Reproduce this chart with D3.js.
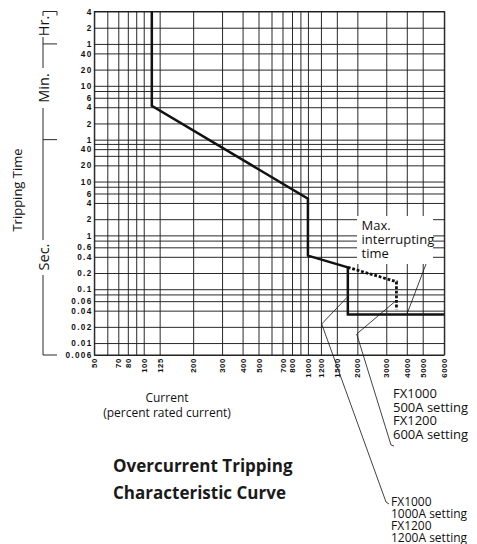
<!DOCTYPE html>
<html><head><meta charset="utf-8">
<script src="https://cdn.jsdelivr.net/npm/d3@7"></script>
<style>body{margin:0;background:#fff}svg{display:block}</style>
</head><body>
<script>
// ---- data ----
const xTickLabels = [50,70,80,100,125,200,300,400,500,700,800,1000,1200,1500,2000,3000,4000,5000,6000];
const xGridValues = [50,60,70,80,90,100,125,200,300,400,500,600,700,800,900,1000,1200,1500,2000,3000,4000,5000,6000];
const hourLabels = [4,2,1];
const minuteLabels = [40,20,10,6,4,2,1];
const secondLabels = [40,20,10,6,4,2,1,0.6,0.4,0.2,0.1,0.06,0.04,0.02,0.01,0.006];
const hourGrid = [4,2,1];
const minuteGrid = [40,20,10,8,6,4,2,1];
const secondGrid = [50,40,30,20,10,8,6,4,2,1,0.8,0.6,0.4,0.2,0.1,0.08,0.06,0.04,0.02,0.01,0.006];
// tripping curve: current (% rated) and time (seconds)
const curveCurrent = [112,112,1000,1000,1750,1750,6000];
const curveTime    = [14400,255,4.8,0.42,0.255,0.034,0.034];
// max interrupting time (dotted)
const maxCurrent = [1750,3460,3460];
const maxTime    = [0.255,0.138,0.042];

const W=477,H=544;
const svg=d3.select("body").append("svg").attr("width",W).attr("height",H);
const L=94.3,R=444.3,T=11.5,B=355;
const x=d3.scaleLog().domain([50,5000,6000]).range([L,422.7,R]);
const y=d3.scaleLog().domain([0.006,14400]).range([B,T]);
const font="'Open Sans', 'Noto Sans', sans-serif";
const tickFont="'Liberation Sans', Arial, sans-serif";

const gridSecs=[...hourGrid.map(h=>h*3600),...minuteGrid.map(m=>m*60),...secondGrid];
const labelSecs=[...hourLabels.map(h=>h*3600),...minuteLabels.map(m=>m*60),...secondLabels];
const labelText=[...hourLabels,...minuteLabels,...secondLabels].map(String);

// grid
const gx=svg.append("g").attr("transform",`translate(0,${B})`)
  .call(d3.axisBottom(x).tickValues(xGridValues).tickFormat("").tickSizeInner(-(B-T)).tickSizeOuter(0));
gx.select(".domain").remove();
gx.selectAll("line").attr("stroke","#1e1e1e").attr("stroke-width",0.95);
const gy=svg.append("g").attr("transform",`translate(${L},0)`)
  .call(d3.axisLeft(y).tickValues(gridSecs).tickFormat("").tickSizeInner(-(R-L)).tickSizeOuter(0));
gy.select(".domain").remove();
gy.selectAll("line").attr("stroke","#1e1e1e").attr("stroke-width",0.95);
svg.append("rect").attr("x",L).attr("y",T).attr("width",R-L).attr("height",B-T)
  .attr("fill","none").attr("stroke","#1e1e1e").attr("stroke-width",1);

// y tick labels
const ay=svg.append("g").attr("transform",`translate(${L-1.8},0)`)
  .call(d3.axisLeft(y).tickValues(labelSecs).tickFormat((d,i)=>labelText[i]).tickSize(0).tickPadding(0));
ay.select(".domain").remove();
ay.selectAll("text").attr("font-family",tickFont).attr("font-weight","bold").attr("font-size",8.2)
  .attr("letter-spacing",1.3).attr("fill","#111");

// x tick labels
const ax=svg.append("g").attr("transform",`translate(0,${B})`)
  .call(d3.axisBottom(x).tickValues(xTickLabels).tickFormat(d=>String(d)).tickSize(0));
ax.select(".domain").remove();
ax.selectAll("text").attr("font-family",tickFont).attr("font-weight","bold").attr("font-size",7.8)
  .attr("letter-spacing",0.6).attr("fill","#111")
  .attr("text-anchor","end").attr("transform","rotate(-90)").attr("x",-3).attr("y",0).attr("dy","0.33em");

// annotation box (covers grid)
svg.append("rect").attr("x",357).attr("y",216).attr("width",76).attr("height",48).attr("fill","#fff");

// curves
const line=d3.line().x(d=>x(d[0])).y(d=>y(d[1]));
svg.append("path").datum(maxCurrent.map((c,i)=>[c,maxTime[i]])).attr("d",line)
  .attr("fill","none").attr("stroke","#111").attr("stroke-width",2.8).attr("stroke-dasharray","2.8,1.8");
svg.append("path").datum(curveCurrent.map((c,i)=>[c,curveTime[i]])).attr("d",line)
  .attr("fill","none").attr("stroke","#111").attr("stroke-width",2.5).attr("stroke-linejoin","miter");

// box text
const bt=svg.append("text").attr("font-family",font).attr("font-size",13).attr("fill","#111");
[["Max.",230],["interrupting",244],["time",257.5]].forEach(([t,yy])=>bt.append("tspan").attr("x",361.5).attr("y",yy).text(t));

// leader lines
const leader=(pts)=>svg.append("path").attr("d",d3.line()(pts)).attr("fill","none").attr("stroke","#111").attr("stroke-width",0.8);
leader([[426,264],[x(4000),y(0.034)]]);
leader([[x(1750)-1,y(0.07)],[321.7,324],[386,502],[389,504]]);
leader([[x(3460)-1,y(0.06)],[356.7,334],[391,445],[394,446]]);

// axis titles
svg.append("text").attr("transform","translate(22,190) rotate(-90)").attr("text-anchor","middle")
  .attr("font-family",font).attr("font-size",13).attr("fill","#111").text("Tripping Time");
svg.append("text").attr("x",167).attr("y",402).attr("text-anchor","middle")
  .attr("font-family",font).attr("font-size",12).attr("fill","#111").text("Current");
svg.append("text").attr("x",167).attr("y",416.5).attr("text-anchor","middle")
  .attr("font-family",font).attr("font-size",12).attr("fill","#111").text("(percent rated current)");

// unit bracket
const bx=43;
const seg=(pts)=>svg.append("path").attr("d",d3.line()(pts)).attr("fill","none").attr("stroke","#111").attr("stroke-width",0.9);
const yHr=y(14400), y1h=y(3600), y1m=y(60), yEnd=y(0.006);
const unitLabels=[["Hr.",26,16,37],["Min.",88,68,108],["Sec.",257,240,275]];
seg([[57,yHr+4],[57,yHr],[bx,yHr],[bx,unitLabels[0][2]]]);
seg([[bx,unitLabels[0][3]],[bx,y1h]]); seg([[bx,y1h],[57,y1h]]);
seg([[bx,y1h],[bx,unitLabels[1][2]]]);
seg([[bx,unitLabels[1][3]],[bx,y1m]]); seg([[bx,y1m],[57,y1m]]);
seg([[bx,y1m],[bx,unitLabels[2][2]]]);
seg([[bx,unitLabels[2][3]],[bx,yEnd],[57,yEnd]]);
unitLabels.forEach(([t,yy])=>
  svg.append("text").attr("transform",`translate(${bx+5.5},${yy}) rotate(-90)`).attr("text-anchor","middle")
   .attr("font-family",font).attr("font-size",14.5).attr("fill","#111").text(t));

// title
[["Overcurrent Tripping",472],["Characteristic Curve",499]].forEach(([t,yy])=>
  svg.append("text").attr("x",113).attr("y",yy).attr("font-family",font).attr("font-weight","bold")
   .attr("font-size",17).attr("fill","#1a1a1a").text(t));

// setting labels
[["FX1000",398],["500A setting",411.5],["FX1200",425],["600A setting",438.5]].forEach(([t,yy])=>
  svg.append("text").attr("x",393).attr("y",yy).attr("font-family",font).attr("font-size",13).attr("fill","#111").text(t));
[["FX1000",506],["1000A setting",518],["FX1200",530],["1200A setting",541.5]].forEach(([t,yy])=>
  svg.append("text").attr("x",391).attr("y",yy).attr("font-family",font).attr("font-size",12).attr("fill","#111").text(t));
</script>
</body></html>
